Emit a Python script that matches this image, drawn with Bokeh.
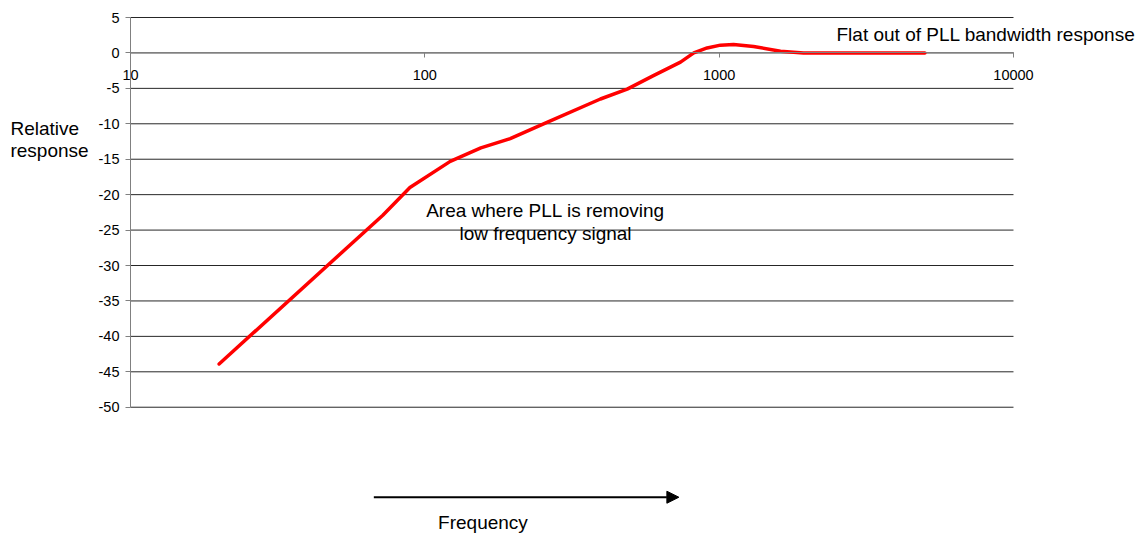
from bokeh.plotting import figure
from bokeh.models import Range1d, FixedTicker, NumeralTickFormatter, Label, Arrow, NormalHead
from bokeh.embed import file_html
from bokeh.resources import INLINE

# ---- data ----
freq = [20, 72, 89, 122, 155, 195, 260, 395, 487, 598, 739, 820, 910, 1010, 1119, 1309, 1616, 1935, 5000]
response = [-43.9, -22.9, -19.0, -15.3, -13.4, -12.1, -9.8, -6.5, -5.1, -3.2, -1.3, 0.0, 0.7, 1.1, 1.2, 0.9, 0.25, 0.0, 0.0]
x_ticks = [10, 100, 1000, 10000]
y_ticks = [-50, -45, -40, -35, -30, -25, -20, -15, -10, -5, 0, 5]

FONT = "Liberation Sans"

# the frame covers the whole canvas so that the annotations outside the data
# area (axis title, arrow) are not clipped; axes are placed with fixed_location
p = figure(width=1141, height=533, x_axis_type="log",
           x_range=Range1d(3.617, 27220), y_range=Range1d(-67.82, 7.40),
           output_backend="svg", toolbar_location=None,
           min_border=0, min_border_left=0, min_border_right=0,
           min_border_top=0, min_border_bottom=0)
p.outline_line_color = None
p.background_fill_color = "white"
p.border_fill_color = "white"
p.grid.visible = False

# horizontal gridlines over the data area only
p.segment(x0=[x_ticks[0]] * len(y_ticks), x1=[x_ticks[-1]] * len(y_ticks),
          y0=y_ticks, y1=y_ticks, line_color="black", line_alpha=0.85, line_width=1)

# axes
xa = p.xaxis[0]
xa.fixed_location = 0
xa.bounds = (x_ticks[0], x_ticks[-1])
xa.ticker = FixedTicker(ticks=x_ticks, minor_ticks=[])
xa.formatter = NumeralTickFormatter(format="0")
xa.axis_line_color = "#808080"
xa.major_tick_line_color = "#808080"
xa.major_tick_in = 0
xa.major_tick_out = 5
xa.minor_tick_line_color = None
xa.major_label_standoff = 12
xa.major_label_text_font = FONT
xa.major_label_text_font_size = "14.5px"
xa.major_label_text_color = "black"

ya = p.yaxis[0]
ya.fixed_location = x_ticks[0]
ya.bounds = (y_ticks[0], y_ticks[-1])
ya.ticker = FixedTicker(ticks=y_ticks, minor_ticks=[])
ya.formatter = NumeralTickFormatter(format="0")
ya.axis_line_color = "#808080"
ya.major_tick_line_color = "#808080"
ya.major_tick_in = 0
ya.major_tick_out = 5
ya.minor_tick_line_color = None
ya.major_label_standoff = 6
ya.major_label_text_font = FONT
ya.major_label_text_font_size = "14.5px"
ya.major_label_text_color = "black"

# data line
p.line(freq, response, line_color="red", line_width=3.5, line_join="round", line_cap="round")

# annotations
def lab(x, y, t, align="left"):
    p.add_layout(Label(x=x, y=y, text=t, text_font=FONT, text_font_size="19px",
                       text_color="black", text_align=align, text_baseline="alphabetic"))

lab(3.91, -10.66, "Relative")
lab(3.91, -13.77, "response")
lab(2504, 2.63, "Flat out of PLL bandwidth response")
lab(257, -22.19, "Area where PLL is removing", "center")
lab(257, -25.48, "low frequency signal", "center")
lab(157.6, -66.2, "Frequency", "center")

p.add_layout(Arrow(x_start=67.1, y_start=-62.7, x_end=729.6, y_end=-62.7,
                   line_color="black", line_width=2,
                   end=NormalHead(size=12, fill_color="black", line_color="black")))

open("out.html", "w").write(file_html(p, INLINE))
